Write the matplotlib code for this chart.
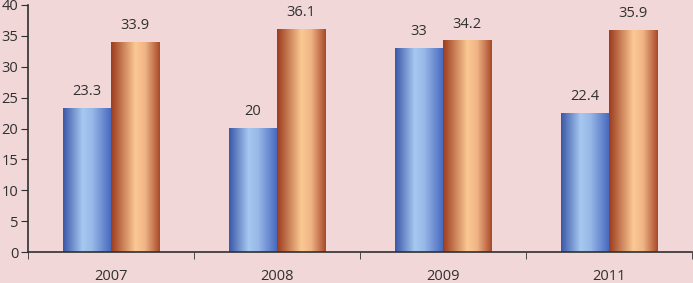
import numpy as np
import matplotlib
matplotlib.use("Agg")
import matplotlib.pyplot as plt
from matplotlib.colors import LinearSegmentedColormap

years = ["2007", "2008", "2009", "2011"]
series_a = [23.3, 20, 33, 22.4]
series_b = [33.9, 36.1, 34.2, 35.9]
labels_a = ["23.3", "20", "33", "22.4"]
labels_b = ["33.9", "36.1", "34.2", "35.9"]

bg = "#f1d7d7"
txt = "#303030"

blue = LinearSegmentedColormap.from_list(
    "b", [(0, "#3c58a8"), (0.4, "#a6c8f0"), (0.6, "#98b8e8"), (1, "#4566bc")])
orange = LinearSegmentedColormap.from_list(
    "o", [(0, "#9c3c1e"), (0.5, "#fbc993"), (0.7, "#f0b486"), (1, "#a84a2a")])

plt.rcParams['font.family'] = ['Open Sans', 'DejaVu Sans']

fig = plt.figure(figsize=(6.93, 2.83), dpi=100)
fig.patch.set_facecolor(bg)
ax = fig.add_axes([28 / 693, 31 / 283, 664 / 693, 247 / 283])
ax.set_facecolor(bg)

w = 0.29
grad = np.linspace(0, 1, 200).reshape(1, -1)
x = np.arange(len(years))
for i in x:
    for vals, labs, cmap, off in [(series_a, labels_a, blue, -w), (series_b, labels_b, orange, 0)]:
        x0 = i + off
        ax.imshow(grad, cmap=cmap, extent=[x0, x0 + w, 0, vals[i]],
                  aspect='auto', zorder=2, interpolation='bilinear')
        ax.text(x0 + w / 2, vals[i] + 1.5, labs[i], ha='center', va='bottom',
                fontsize=10.5, color=txt)

ax.set_xlim(-0.5, len(years) - 0.5)
ax.set_ylim(0, 40)
ax.set_yticks(range(0, 41, 5))
ax.set_xticks(x)
ax.set_xticklabels(years)
ax.set_xticks(np.arange(-0.5, len(years), 1), minor=True)
ax.tick_params(axis='x', which='major', length=0, pad=12, labelsize=10.5, colors=txt)
ax.tick_params(axis='x', which='minor', length=5, direction='out', color=txt)
ax.tick_params(axis='y', length=5, direction='out', labelsize=10.5, colors=txt, pad=2)
for s in ['top', 'right']:
    ax.spines[s].set_visible(False)
for s in ['left', 'bottom']:
    ax.spines[s].set_color(txt)
    ax.spines[s].set_linewidth(1.2)

fig.savefig("out.png", dpi=100, facecolor=bg)
